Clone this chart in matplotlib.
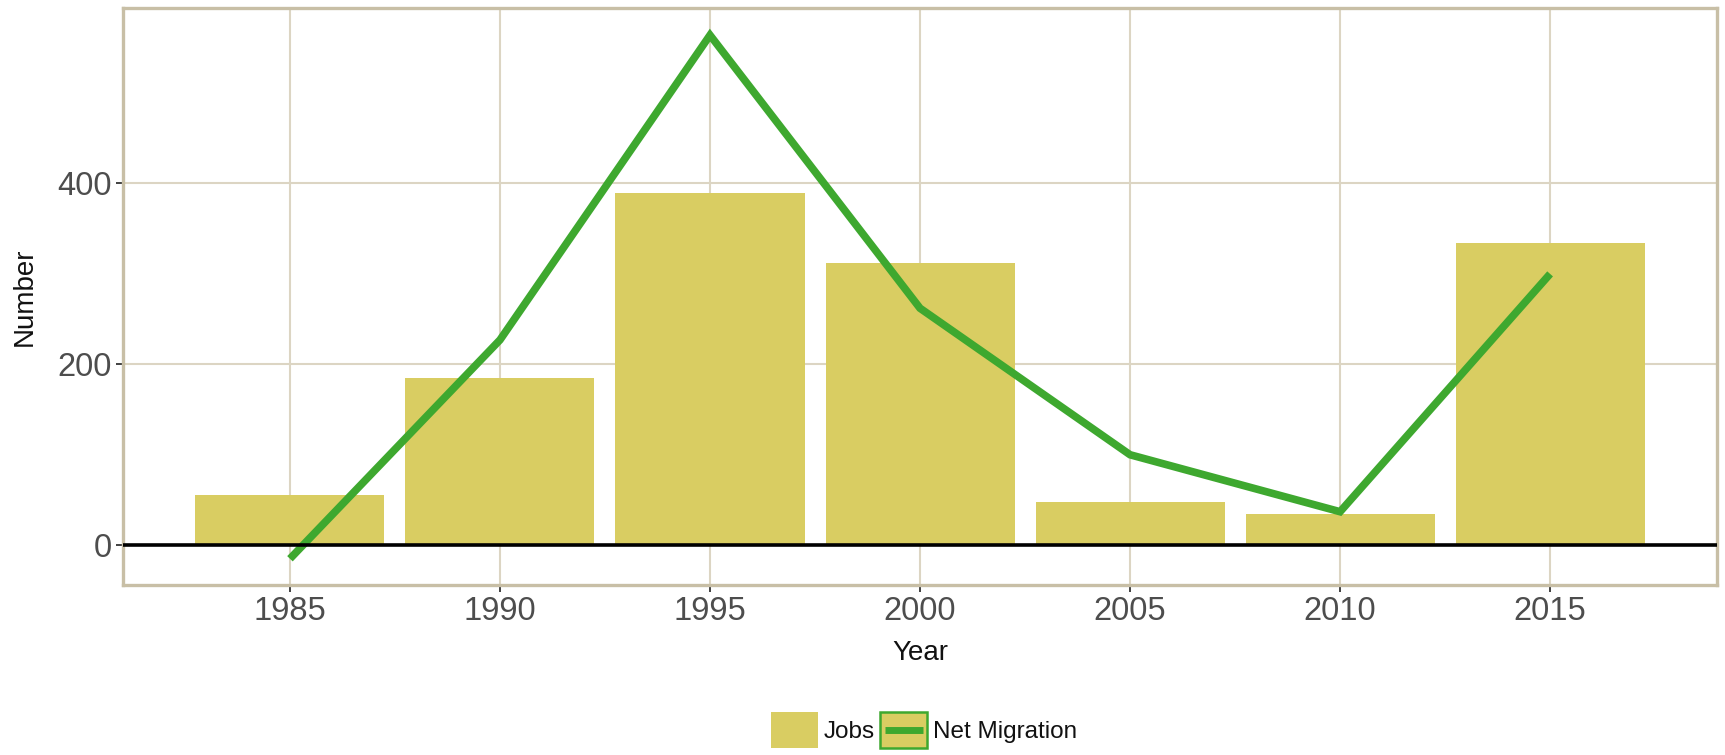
import matplotlib

matplotlib.use("Agg")
import matplotlib.pyplot as plt
from matplotlib.legend_handler import HandlerBase
from matplotlib.lines import Line2D
from matplotlib.patches import Patch, Rectangle

years = [1985, 1990, 1995, 2000, 2005, 2010, 2015]
jobs = [55, 185, 389, 312, 48, 35, 334]
net_migration = [-15, 227, 564, 262, 100, 37, 300]

x_ticks = [1985, 1990, 1995, 2000, 2005, 2010, 2015]
y_ticks = [0, 200, 400]

BAR_COLOR = "#d9cd62"
LINE_COLOR = "#3ea82f"
GRID_COLOR = "#dcd5c3"
BORDER_COLOR = "#c8bfa6"
TICK_TEXT = "#4d4d4d"

plt.rcParams["font.family"] = ["Liberation Sans", "DejaVu Sans"]


class BoxLineHandler(HandlerBase):
    """Legend key: filled box with a green border and a short thick line."""

    def create_artists(self, legend, orig_handle, xdescent, ydescent,
                       width, height, fontsize, trans):
        box = Rectangle((-xdescent, -ydescent), width, height,
                        facecolor=BAR_COLOR, edgecolor=LINE_COLOR,
                        linewidth=1.8, transform=trans)
        inset = width * 0.1
        y = -ydescent + height / 2
        line = Line2D([-xdescent + inset, -xdescent + width - inset], [y, y],
                      color=LINE_COLOR, linewidth=5, solid_capstyle="butt",
                      transform=trans)
        return [box, line]


fig = plt.figure(figsize=(17.25, 7.55), dpi=100)
fig.patch.set_facecolor("#ffffff")
ax = fig.add_axes([0.0713, 0.2252, 0.9241, 0.7642])

ax.bar(years, jobs, width=4.5, color=BAR_COLOR, zorder=2)
ax.plot(years, net_migration, color=LINE_COLOR, linewidth=5.5,
        solid_capstyle="butt", solid_joinstyle="miter", zorder=3)
ax.axhline(0, color="#000000", linewidth=2.6, zorder=4)

ax.set_xlim(1981.025, 2018.975)
ax.set_ylim(-44, 594)
ax.set_xticks(x_ticks)
ax.set_yticks(y_ticks)
ax.grid(True, color=GRID_COLOR, linewidth=1.5, zorder=0)
ax.set_axisbelow(True)

for spine in ax.spines.values():
    spine.set_color(BORDER_COLOR)
    spine.set_linewidth(2.4)

ax.tick_params(axis="both", length=5, width=1.3, color="#333333",
               labelsize=23.5, labelcolor=TICK_TEXT, pad=3)

ax.set_xlabel("Year", fontsize=20, color="#111111", va="center")
ax.set_ylabel("Number", fontsize=20, color="#111111", va="center")
ax.xaxis.set_label_coords(0.5, -0.118)
ax.yaxis.set_label_coords(-0.0615, 0.5)

jobs_key = Patch(facecolor=BAR_COLOR, edgecolor="none")
migration_key = Patch(facecolor=BAR_COLOR, edgecolor=LINE_COLOR)
fig.legend(
    [jobs_key, migration_key],
    ["Jobs", "Net Migration"],
    handler_map={migration_key: BoxLineHandler()},
    loc="center",
    bbox_to_anchor=(0.5357, 0.0331),
    bbox_transform=fig.transFigure,
    ncol=2,
    frameon=False,
    prop={"size": 17.5},
    labelcolor="#111111",
    handlelength=1.95,
    handleheight=1.85,
    handletextpad=0.25,
    columnspacing=0.2,
    borderpad=0,
)

fig.savefig("out.png", dpi=100, facecolor=fig.get_facecolor())
